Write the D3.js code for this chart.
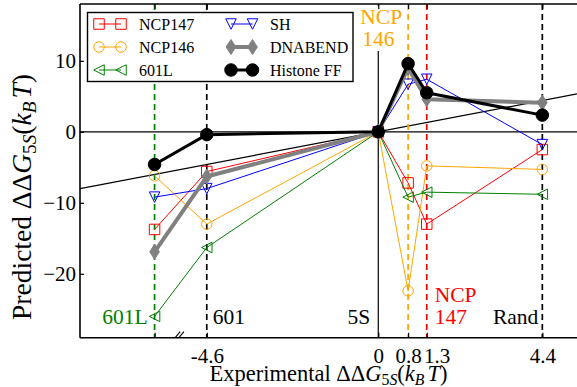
<!DOCTYPE html>
<html>
<head>
<meta charset="utf-8">
<script src="https://cdn.jsdelivr.net/npm/d3@7"></script>
<style>
  body { margin: 0; background: #fff; }
  svg { display: block; }
  text { font-family: "Liberation Serif", "Times New Roman", serif; }
</style>
</head>
<body>
<svg id="chart" width="577" height="387"></svg>
<script>
// Experimental free-energy difference (relative to 5S) of each DNA construct
const xPositions = [-6, -4.6, 0, 0.8, 1.3, 4.4];
// Predicted values for each model, in the same order as xPositions
const ncp147    = [-13.75, -5.6, 0, -7.2, -13.0, -2.5];
const ncp146    = [-6.2, -13.0, 0, -22.4, -4.8, -5.3];
const l601      = [-26.0, -16.3, 0, -9.2, -8.5, -8.8];
const sh        = [-9.2, -8.0, 0, 6.7, 7.4, -1.8];
const dnabend   = [-16.9, -6.3, 0, 9.0, 4.6, 4.1];
const histoneFF = [-4.6, -0.4, 0, 9.6, 5.5, 2.35];

const xTicks = [-6, -4.6, 0, 0.8, 1.3, 4.4];
const xTickLabels = ["", "-4.6", "0", "0.8", "1.3", "4.4"];
const yTicks = [10, 0, -10, -20];
const guideX = [-6, -4.6, 0.8, 1.3, 4.4];
const guideColors = ["green", "black", "orange", "red", "black"];

const svg = d3.select("#chart");
const W = 577, H = 387;
const plot = { left: 80, right: 577, top: 4, bottom: 337.7 };

const x = d3.scaleLinear().domain([-8, 5.33]).range([plot.left, plot.right]);
const y = d3.scaleLinear().domain([-29, 18]).range([plot.bottom, plot.top]);

svg.append("rect").attr("width", W).attr("height", H).attr("fill", "#fff");

svg.append("clipPath").attr("id", "clip")
  .append("rect")
  .attr("x", plot.left).attr("y", plot.top)
  .attr("width", plot.right - plot.left).attr("height", plot.bottom - plot.top);

const g = svg.append("g").attr("clip-path", "url(#clip)");

// reference lines: axes through the origin and the y = x diagonal
g.append("line")
  .attr("x1", x(-8)).attr("x2", x(5.33)).attr("y1", y(0)).attr("y2", y(0))
  .attr("stroke", "#000").attr("stroke-width", 1.2);
g.append("line")
  .attr("x1", x(0)).attr("x2", x(0)).attr("y1", y(18)).attr("y2", y(-29))
  .attr("stroke", "#000").attr("stroke-width", 1.2);
g.append("line")
  .attr("x1", x(-8)).attr("y1", y(-8)).attr("x2", x(5.33)).attr("y2", y(5.33))
  .attr("stroke", "#000").attr("stroke-width", 1.2);

// dashed guides at each construct
guideX.forEach((v, i) => {
  g.append("line")
    .attr("x1", x(v)).attr("x2", x(v)).attr("y1", y(18)).attr("y2", y(-29))
    .attr("stroke", guideColors[i]).attr("stroke-width", 1.7)
    .attr("stroke-dasharray", "6,4");
});

// marker shape factories
function markerPath(kind, s) {
  const h = s / 2;
  switch (kind) {
    case "square": return `M${-h},${-h}H${h}V${h}H${-h}Z`;
    case "triDown": return `M${-h},${-h}H${h}L0,${h}Z`;
    case "triLeft": return `M${-h},0L${h},${-h}V${h}Z`;
    case "diamond": return `M0,${-s * 0.65}L${s * 0.42},0L0,${s * 0.65}L${-s * 0.42},0Z`;
  }
}

const series = [
  { name: "NCP147", values: ncp147, color: "red", lw: 1, marker: "square", size: 10.5, fill: "none" },
  { name: "NCP146", values: ncp146, color: "orange", lw: 1, marker: "circle", size: 10.5, fill: "none" },
  { name: "601L", values: l601, color: "green", lw: 1, marker: "triLeft", size: 10.5, fill: "none" },
  { name: "SH", values: sh, color: "blue", lw: 1, marker: "triDown", size: 10.5, fill: "none" },
  { name: "DNABEND", values: dnabend, color: "gray", lw: 4, marker: "diamond", size: 11.5, fill: "gray" },
  { name: "Histone FF", values: histoneFF, color: "black", lw: 3, marker: "circle", size: 12.5, fill: "black" }
];

const line = d3.line().x(d => x(d[0])).y(d => y(d[1]));

function drawMarker(sel, s, cx, cy) {
  if (s.marker === "circle") {
    sel.append("circle").attr("cx", cx).attr("cy", cy).attr("r", s.size / 2)
      .attr("fill", s.fill).attr("stroke", s.color).attr("stroke-width", 1);
  } else {
    sel.append("path").attr("d", markerPath(s.marker, s.size))
      .attr("transform", `translate(${cx},${cy})`)
      .attr("fill", s.fill).attr("stroke", s.color).attr("stroke-width", 1);
  }
}

series.forEach(s => {
  const pts = xPositions.map((v, i) => [v, s.values[i]]);
  g.append("path").datum(pts).attr("d", line)
    .attr("fill", "none").attr("stroke", s.color).attr("stroke-width", s.lw)
    .attr("stroke-linejoin", "round");
  pts.forEach(p => drawMarker(g, s, x(p[0]), y(p[1])));
});

// construct labels
const labelFont = 21.5;
function label(txt, px, py, color, anchor) {
  return svg.append("text").attr("x", px).attr("y", py).attr("fill", color)
    .attr("font-size", labelFont).attr("text-anchor", anchor || "start").text(txt);
}
label("601L", x(-6) - 7, 324, "green", "end");
label("601", x(-4.6) + 6, 324, "black", "start");
label("5S", x(0) - 8, 324, "black", "end");
label("NCP", x(1.3) + 8, 302, "red", "start");
label("147", x(1.3) + 8, 324, "red", "start");
label("Rand", x(4.4) - 4, 324, "black", "end");
svg.append("rect").attr("x", x(0) - 19).attr("y", 6).attr("width", 45).attr("height", 45).attr("fill", "#fff");
label("NCP", x(0) - 18, 24, "orange", "start");
label("146", x(0) - 16, 46, "orange", "start");

// axis break mark
[-5.38, -5.28].forEach(v => {
  svg.append("line")
    .attr("x1", x(v) - 2.5).attr("y1", plot.bottom).attr("x2", x(v) + 2.5).attr("y2", plot.bottom - 6)
    .attr("stroke", "#000").attr("stroke-width", 1.1);
});

// frame: left, top, bottom spines
svg.append("line").attr("x1", plot.left).attr("x2", plot.left).attr("y1", plot.top).attr("y2", plot.bottom)
  .attr("stroke", "#000").attr("stroke-width", 1.6);
svg.append("line").attr("x1", plot.left).attr("x2", W).attr("y1", plot.top).attr("y2", plot.top)
  .attr("stroke", "#000").attr("stroke-width", 1.6);
svg.append("line").attr("x1", plot.left).attr("x2", W).attr("y1", plot.bottom).attr("y2", plot.bottom)
  .attr("stroke", "#000").attr("stroke-width", 1.6);

// axes with inward ticks
const xAxis = d3.axisBottom(x).tickValues(xTicks)
  .tickFormat((d, i) => xTickLabels[i]).tickSizeInner(-5).tickSizeOuter(0).tickPadding(10);
const gx = svg.append("g").attr("transform", `translate(0,${plot.bottom})`).call(xAxis);
gx.select(".domain").remove();
gx.selectAll("text").attr("font-size", 21).attr("fill", "#000")
  .attr("dx", d => d === 1.3 ? 10 : 0);
gx.selectAll("line").attr("stroke", "#000").attr("stroke-width", 1.2);

const xTop = d3.axisTop(x).tickValues(xTicks).tickFormat("").tickSizeInner(-5).tickSizeOuter(0);
const gxt = svg.append("g").attr("transform", `translate(0,${plot.top})`).call(xTop);
gxt.select(".domain").remove();
gxt.selectAll("line").attr("stroke", "#000").attr("stroke-width", 1.2);

const yAxis = d3.axisLeft(y).tickValues(yTicks)
  .tickFormat(d => d < 0 ? "\u2212" + Math.abs(d) : String(d))
  .tickSizeInner(-4).tickSizeOuter(0).tickPadding(4);
const gy = svg.append("g").attr("transform", `translate(${plot.left},0)`).call(yAxis);
gy.select(".domain").remove();
gy.selectAll("text").attr("font-size", 21).attr("fill", "#000");
gy.selectAll("line").attr("stroke", "#000").attr("stroke-width", 1.2);

// axis titles with math-style subscripts
function mathTitle(t, prefix, sub) {
  t.append("tspan").text(prefix + "\u0394\u0394");
  t.append("tspan").attr("font-style", "italic").text("G");
  t.append("tspan").attr("font-size", "70%").attr("dy", sub).text("5");
  t.append("tspan").attr("font-size", "70%").attr("font-style", "italic").text("S");
  t.append("tspan").attr("dy", -sub).text("(");
  t.append("tspan").attr("font-style", "italic").text("k");
  t.append("tspan").attr("font-size", "70%").attr("font-style", "italic").attr("dy", sub).text("B");
  t.append("tspan").attr("font-style", "italic").attr("dy", -sub).attr("dx", 3).text("T");
  t.append("tspan").text(")");
}
const xt = svg.append("text").attr("x", (plot.left + plot.right) / 2).attr("y", 381)
  .attr("text-anchor", "middle").attr("font-size", 22.5).attr("fill", "#000");
mathTitle(xt, "Experimental ", 4);
const yt = svg.append("text")
  .attr("transform", `translate(31,197) rotate(-90)`)
  .attr("text-anchor", "middle").attr("font-size", 27.5).attr("fill", "#000");
mathTitle(yt, "Predicted ", 5);

// legend
const lg = svg.append("g");
lg.append("rect").attr("x", 87.5).attr("y", 12.5).attr("width", 265.5).attr("height", 69)
  .attr("fill", "#fff").attr("stroke", "#000").attr("stroke-width", 1.4);
const rows = [24, 47, 70];
series.forEach((s, i) => {
  const col = Math.floor(i / 3), row = i % 3;
  const x1 = col === 0 ? 99 : 231, x2 = col === 0 ? 121 : 252.5;
  const ty = rows[row];
  lg.append("line").attr("x1", x1).attr("x2", x2).attr("y1", ty).attr("y2", ty)
    .attr("stroke", s.color).attr("stroke-width", s.lw);
  drawMarker(lg, s, x1, ty);
  drawMarker(lg, s, x2, ty);
  lg.append("text").attr("x", col === 0 ? 139 : 270).attr("y", ty + 5.5)
    .attr("font-size", 16).attr("fill", "#000").text(s.name);
});
</script>
</body>
</html>
